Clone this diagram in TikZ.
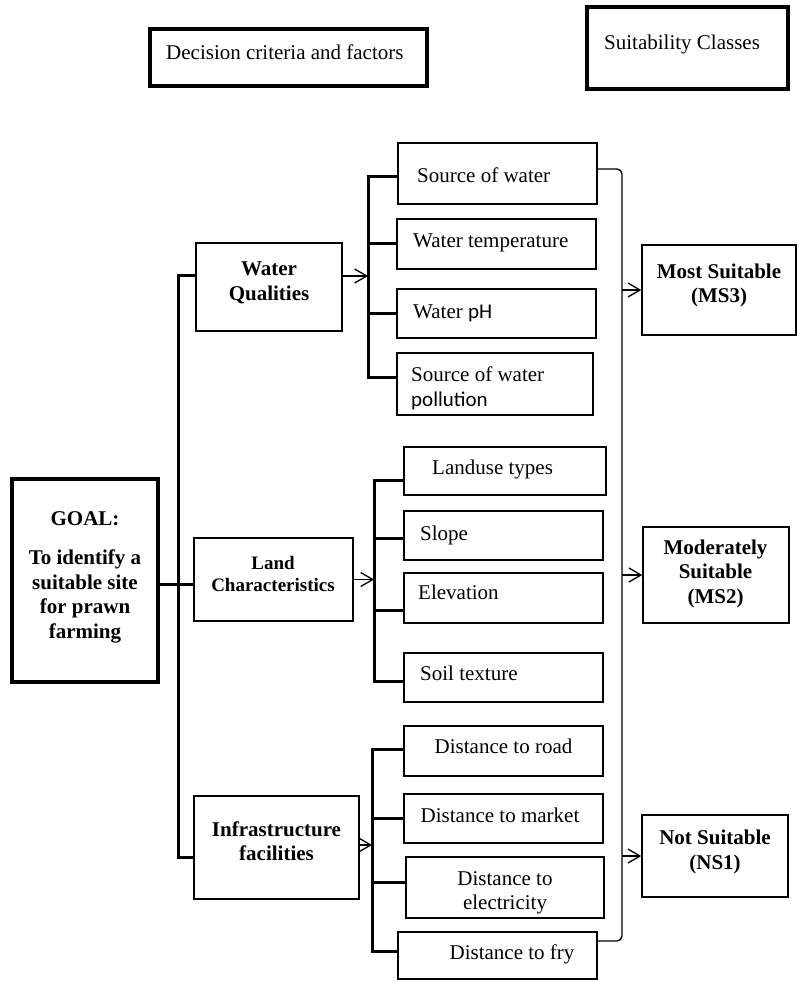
\documentclass[tikz,border=0pt]{standalone}
\usepackage{fontspec}
\setmainfont{Liberation Serif}
\newfontfamily\calibrifont{Carlito}
\usetikzlibrary{arrows.meta}
\begin{document}
\begin{tikzpicture}[x=1pt,y=-1pt,
  box/.style={draw, line width=1.5pt, inner sep=0pt, rectangle},
  heavybox/.style={draw, line width=3.2pt, inner sep=0pt, rectangle},
  lbl/.style={inner sep=0pt, font=\fontsize{21}{24.5}\selectfont},
  blbl/.style={inner sep=0pt, align=center, font=\bfseries\fontsize{21}{24.5}\selectfont},
  spine/.style={line width=3pt},
  link/.style={line width=1.4pt, rounded corners=5pt},
  arr/.style={line width=1.3pt, -{Straight Barb[length=12pt,width=14pt]}}]
\useasboundingbox (0,0) rectangle (798,981);

% header boxes
\node[heavybox, minimum width=277pt, minimum height=57pt] (dec) at (288.5,57.5) {};
\node[lbl, anchor=mid west] (dect) at (166,57) {Decision criteria and factors};
\node[heavybox, minimum width=201pt, minimum height=82pt] (suit) at (687.5,48) {};
\node[lbl, anchor=mid west] (suitt) at (604,47) {Suitability Classes};

% goal
\node[heavybox, minimum width=146pt, minimum height=203pt] (goal) at (85,580.5) {};
\node[blbl] (goalt) at (85,577) {GOAL:\\[15pt]To identify a\\suitable site\\for prawn\\farming};

% criteria
\node[box, minimum width=146pt, minimum height=88pt] (wq) at (269,287) {};
\node[blbl] (wqt) at (269,283) {Water\\Qualities};
\node[box, minimum width=159pt, minimum height=83pt] (land) at (273.5,579.5) {};
\node[blbl, font=\bfseries\fontsize{19}{22}\selectfont] (landt) at (273,573.5) {Land\\Characteristics};
\node[box, minimum width=165pt, minimum height=103pt] (infra) at (276.5,847.5) {};
\node[blbl] (infrat) at (276.5,841) {Infrastructure\\facilities};

% water factors
\node[box, minimum width=199pt, minimum height=61pt] (sw) at (497.5,173.5) {};
\node[lbl, anchor=mid west] (swt) at (417,180) {Source of water};
\node[box, minimum width=199pt, minimum height=50pt] (wt) at (496.5,244) {};
\node[lbl, anchor=mid west] (wtt) at (413,245) {Water temperature};
\node[box, minimum width=199pt, minimum height=49pt] (wph) at (496.5,313.5) {};
\node[lbl, anchor=mid west] (wpht) at (413,316) {Water {\calibrifont pH}};
\node[box, minimum width=196pt, minimum height=62pt] (swp) at (495,384) {};
\node[lbl, anchor=west, align=left] (swpt) at (411,388.5) {Source of water\\{\calibrifont pollution}};

% land factors
\node[box, minimum width=202pt, minimum height=48pt] (lu) at (505,471) {};
\node[lbl, anchor=mid west] (lut) at (432,472) {Landuse types};
\node[box, minimum width=199pt, minimum height=49pt] (sl) at (503.5,535.5) {};
\node[lbl, anchor=mid west] (slt) at (420,538) {Slope};
\node[box, minimum width=199pt, minimum height=50pt] (el) at (503.5,598) {};
\node[lbl, anchor=mid west] (elt) at (418,597) {Elevation};
\node[box, minimum width=199pt, minimum height=49pt] (st) at (503.5,677.5) {};
\node[lbl, anchor=mid west] (stt) at (420,678) {Soil texture};

% infrastructure factors
\node[box, minimum width=199pt, minimum height=50pt] (dr) at (503.5,751) {};
\node[lbl, anchor=mid] (drt) at (503.5,751) {Distance to road};
\node[box, minimum width=199pt, minimum height=49pt] (dm) at (503.5,818.5) {};
\node[lbl, anchor=mid] (dmt) at (500,820) {Distance to market};
\node[box, minimum width=198pt, minimum height=61pt] (de) at (505,887.5) {};
\node[lbl, align=center] (det) at (505,893) {Distance to\\electricity};
\node[box, minimum width=199pt, minimum height=47pt] (df) at (497.5,955.5) {};
\node[lbl, anchor=mid] (dft) at (512,957) {Distance to fry};

% suitability classes
\node[box, minimum width=154pt, minimum height=90pt] (ms3) at (719,290) {};
\node[blbl] (ms3t) at (719,285.5) {Most Suitable\\(MS3)};
\node[box, minimum width=146pt, minimum height=96pt] (ms2) at (716,575) {};
\node[blbl] (ms2t) at (715.5,573.5) {Moderately\\Suitable\\(MS2)};
\node[box, minimum width=146pt, minimum height=82pt] (ns1) at (715,856) {};
\node[blbl] (ns1t) at (715,852) {Not Suitable\\(NS1)};

% main spine from the goal to the three criteria
\coordinate (ltop) at (178,276);
\coordinate (lbot) at (178,857);
\coordinate (gy) at (0,584);
\draw[spine] (wq.west |- ltop) -- (ltop) -- (lbot) -- (infra.west |- lbot);
\draw[spine] (goal.east |- gy) -- (land.west |- gy);

% water bracket
\coordinate (wtop) at (368,177);
\coordinate (wbot) at (368,377);
\draw[spine] (sw.west |- wtop) -- (wtop) -- (wbot) -- (swp.west |- wbot);
\draw[spine] (wt.west -| wtop) -- (wt.west);
\draw[spine] (wph.west -| wtop) -- (wph.west);
\draw[arr] (wq.east |- ltop) -- (wtop |- ltop);

% land bracket
\coordinate (ltp) at (374,480);
\coordinate (lbt) at (374,681);
\draw[spine] (lu.west |- ltp) -- (ltp) -- (lbt) -- (st.west |- lbt);
\draw[spine] (ltp |- 0,538) -- (sl.west |- 0,538);
\draw[spine] (ltp |- 0,610) -- (el.west |- 0,610);
\draw[arr] (land.east) -- (land.east -| ltp);

% infrastructure bracket
\coordinate (itp) at (372,749);
\coordinate (ibt) at (372,951);
\draw[spine] (dr.west |- itp) -- (itp) -- (ibt) -- (df.west |- ibt);
\draw[spine] (itp |- 0,818) -- (dm.west |- 0,818);
\draw[spine] (itp |- 0,882) -- (de.west |- 0,882);
\draw[arr] (infra.east |- 0,845) -- (itp |- 0,845);

% collecting bracket towards the classes
\coordinate (rtop) at (622,169);
\coordinate (rbot) at (622,941);
\draw[link] (sw.east |- rtop) -- (rtop) -- (rbot) -- (df.east |- rbot);
\draw[arr] (ms3.west -| rtop) -- (ms3.west);
\draw[arr] (ms2.west -| rtop) -- (ms2.west);
\draw[arr] (ns1.west -| rtop) -- (ns1.west);
\end{tikzpicture}
\end{document}
